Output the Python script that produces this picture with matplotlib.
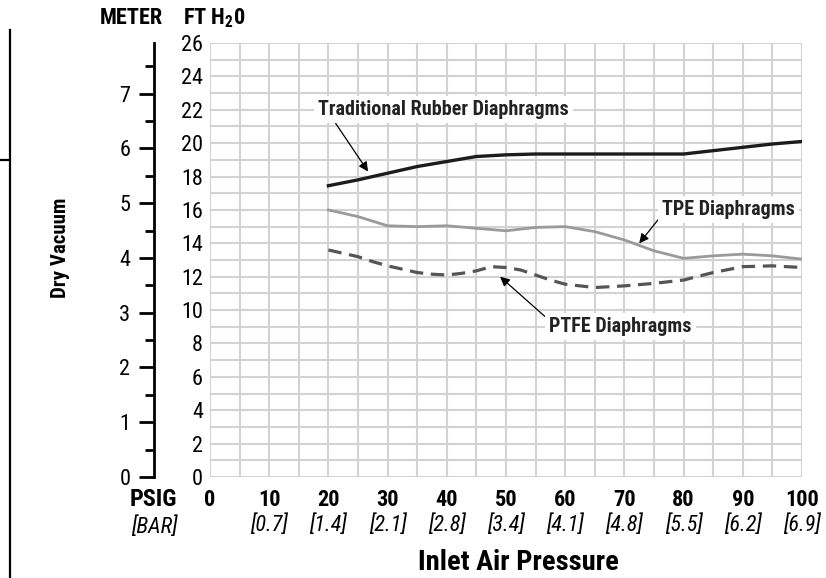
import matplotlib
matplotlib.use("Agg")
import matplotlib.pyplot as plt
from matplotlib import font_manager
from matplotlib.lines import Line2D

# pick a condensed face if one is installed
names = {f.name for f in font_manager.fontManager.ttflist}
FONT = "DejaVu Sans"
for cand in ("Roboto Condensed", "Archivo Narrow", "Fira Sans Condensed", "Sofia Sans Semi Condensed"):
    if cand in names:
        FONT = cand
        break
plt.rcParams["font.family"] = [FONT, "DejaVu Sans"]
plt.rcParams["mathtext.fontset"] = "custom"
plt.rcParams["mathtext.rm"] = FONT + ":bold"
plt.rcParams["mathtext.bf"] = FONT + ":bold"

# data (ft H2O vs inlet psig)
psig = [20, 25, 30, 35, 40, 45, 50, 55, 60, 65, 70, 75, 80, 85, 90, 95, 100]
rubber = [17.45, 17.8, 18.2, 18.6, 18.9, 19.2, 19.3, 19.35, 19.35, 19.35, 19.35, 19.35, 19.35, 19.55, 19.75, 19.95, 20.1]
tpe = [16.0, 15.6, 15.05, 15.0, 15.05, 14.9, 14.75, 14.95, 15.0, 14.7, 14.2, 13.55, 13.1, 13.25, 13.35, 13.25, 13.05]
ptfe_psig = [20, 22.5, 25, 27.5, 30, 32.5, 35, 37.5, 40, 42.5, 45, 47.5, 50, 52.5, 55, 57.5, 60,
             65, 70, 75, 80, 85, 90, 95, 100]
ptfe = [13.6, 13.4, 13.2, 12.9, 12.65, 12.45, 12.25, 12.15, 12.1, 12.2, 12.35, 12.6, 12.55, 12.4, 12.1, 11.8, 11.55,
        11.35, 11.45, 11.6, 11.8, 12.25, 12.6, 12.65, 12.55]

psi_ticks = [0, 10, 20, 30, 40, 50, 60, 70, 80, 90, 100]
bar_ticks = [10, 20, 30, 40, 50, 60, 70, 80, 90, 100]
bar_labels = ["[0.7]", "[1.4]", "[2.1]", "[2.8]", "[3.4]", "[4.1]", "[4.8]", "[5.5]", "[6.2]", "[6.9]"]
ft_ticks = list(range(0, 27, 2))
m_ticks = list(range(0, 8))
FT_PER_M = 3.28084

W, H = 826, 578
fig = plt.figure(figsize=(W / 100, H / 100), dpi=100)
ax = fig.add_axes([210 / W, 1 - 477 / H, 592 / W, 434 / H])

ax.set_xlim(0, 100)
ax.set_ylim(0, 26)
for s in ax.spines.values():
    s.set_visible(False)
ax.set_xticks(psi_ticks)
ax.set_xticklabels([str(t) for t in psi_ticks], fontweight="bold", fontsize=16)
ax.set_xticks(range(0, 101, 5), minor=True)
ax.set_yticks(ft_ticks)
ax.set_yticklabels([str(t) for t in ft_ticks], fontsize=16)
ax.set_yticks(range(0, 27), minor=True)
ax.tick_params(axis="both", which="both", length=0)
ax.tick_params(axis="x", pad=9)
ax.tick_params(axis="y", pad=5)
ax.grid(which="both", color="#d2d2d2", linewidth=1.5)
ax.set_axisbelow(True)

# BAR equivalents under the psig labels
sec = ax.secondary_xaxis("bottom")
sec.set_xticks(bar_ticks)
sec.set_xticklabels(bar_labels, fontstyle="italic", fontsize=16)
sec.tick_params(length=0, pad=27)
sec.spines["bottom"].set_visible(False)

ax.plot(psig, rubber, color="#1c1c1c", linewidth=2.4, solid_joinstyle="round", zorder=3)
ax.plot(psig, tpe, color="#9a9a9a", linewidth=2.0, solid_joinstyle="round", zorder=3)
ax.plot(ptfe_psig, ptfe, color="#555555", linewidth=2.3, dashes=(4.2, 2.4), zorder=3)

box = dict(boxstyle="square,pad=0.2", facecolor="white", edgecolor="none")
arrow = dict(arrowstyle="-|>", color="black", linewidth=0.9, mutation_scale=14, shrinkA=0, shrinkB=0)
lbl = dict(ha="center", va="center", fontsize=14.5, fontweight="bold", color="#222222", bbox=box, zorder=4)
ax.annotate("Traditional Rubber Diaphragms", xy=(26.7, 18.3), xytext=(39.4, 22.0),
            arrowprops=dict(arrow, relpos=(0.06, 0.0)), **lbl)
ax.annotate("TPE Diaphragms", xy=(72.5, 14.0), xytext=(87.6, 16.0),
            arrowprops=dict(arrow, relpos=(0.0, 0.25)), **lbl)
ax.annotate("PTFE Diaphragms", xy=(49.0, 12.0), xytext=(69.3, 9.0),
            arrowprops=dict(arrow, relpos=(0.0, 0.85)), **lbl)

# meter scale on a separate spine left of the grid
axm = ax.twinx()
axm.set_ylim(0, 26 / FT_PER_M)
for k in ("top", "right", "bottom"):
    axm.spines[k].set_visible(False)
axm.spines["left"].set_visible(True)
axm.spines["left"].set_position(("axes", -56 / 592))
axm.spines["left"].set_linewidth(2.0)
axm.yaxis.set_ticks_position("left")
axm.set_yticks(m_ticks)
axm.set_yticklabels([str(t) for t in m_ticks], fontsize=16)
axm.set_yticks([t + 0.5 for t in m_ticks], minor=True)
axm.tick_params(axis="y", which="major", length=11, width=2.0, pad=6)
axm.tick_params(axis="y", which="minor", length=6.5, width=2.0)

fig.text(131 / W, 1 - 18 / H, "METER", ha="center", va="center", fontsize=16, fontweight="bold")
fig.text(183 / W, 1 - 18 / H, r"FT H$_{2}$0", ha="left", va="center", fontsize=16, fontweight="bold")
fig.text(61 / W, 1 - 248 / H, "Dry Vacuum", rotation=90, ha="center", va="center", fontsize=15, fontweight="bold")
fig.text(153 / W, 1 - 500 / H, "PSIG", ha="center", va="center", fontsize=17.5, fontweight="bold")
fig.text(154 / W, 1 - 527 / H, "[BAR]", ha="center", va="center", fontsize=16, fontstyle="italic")
fig.text(518 / W, 1 - 562 / H, "Inlet Air Pressure", ha="center", va="center", fontsize=20.5, fontweight="bold")

# cropped frame edge on the far left of the original
fig.add_artist(Line2D([10 / W, 10 / W], [0, 1 - 30 / H], color="black", linewidth=1.6))
fig.add_artist(Line2D([0, 9 / W], [1 - 160 / H, 1 - 160 / H], color="black", linewidth=1.6))

fig.savefig("out.png", dpi=100)
